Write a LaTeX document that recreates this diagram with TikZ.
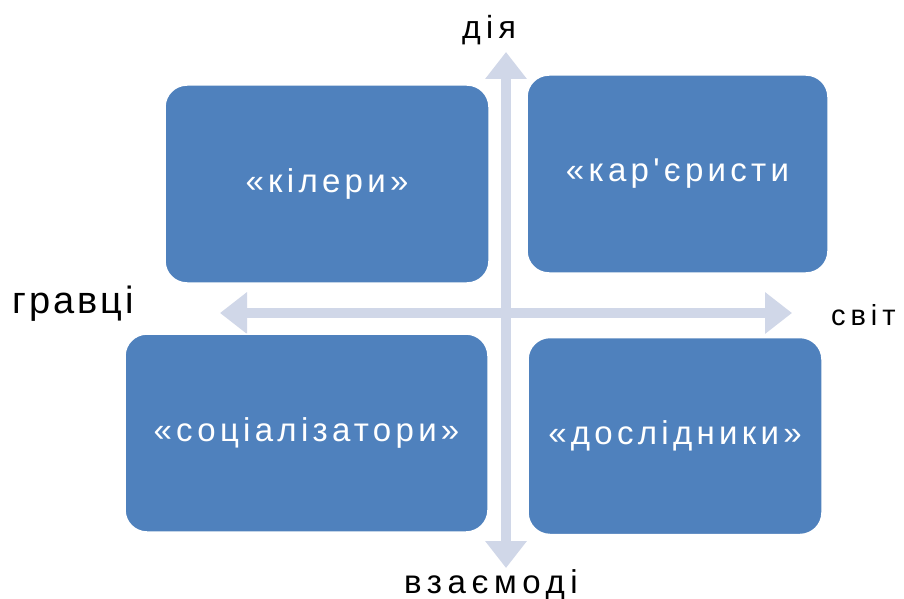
\documentclass[tikz,border=0pt]{standalone}
\usepackage{fontspec}
\setmainfont{Liberation Sans}
\newfontfamily\boxfont[LetterSpace=13]{Liberation Sans}
\newfontfamily\axisfontA[LetterSpace=8]{Liberation Sans}
\newfontfamily\axisfontB[LetterSpace=17]{Liberation Sans}
\usetikzlibrary{arrows.meta}
\definecolor{tileblue}{RGB}{79,129,189}
\definecolor{axisgrey}{RGB}{208,215,232}
\tikzset{
  tile/.style={rectangle, rounded corners=22pt, fill=tileblue, draw=white,
    line width=1.5pt, inner sep=0pt, text=white,
    font=\boxfont\fontsize{33}{38}\selectfont},
  axis/.style={draw=axisgrey, line width=10pt,
    {Triangle[width=40pt,length=27pt]}-{Triangle[width=40pt,length=27pt]}},
  axislabel/.style={inner sep=0pt, text=black}
}
\begin{document}
\begin{tikzpicture}[x=1pt,y=-1pt]
\useasboundingbox[fill=white] (0,0) rectangle (904,599);

% axis end points
\coordinate (top) at (506,52);
\coordinate (bottom) at (506,568);
\coordinate (left) at (220,313);
\coordinate (right) at (792,313);

\draw[axis] (left) -- (right);
\draw[axis] (bottom) -- (top);

% the four player types
\node[tile, minimum width=324pt, minimum height=198pt] (killers) at (327,184) {«кілери»};
\node[tile, minimum width=301pt, minimum height=198pt] (achievers) at (677.5,174) {«кар'єристи};
\node[tile, minimum width=363pt, minimum height=198pt] (socializers) at (306.5,433) {«соціалізатори»};
\node[tile, minimum width=294pt, minimum height=197pt] (explorers) at (675,436) {«дослідники»};

% axis labels
\node[axislabel, anchor=base, font=\axisfontB\fontsize{32}{37}\selectfont] (action) at (489,39) {дія};
\node[axislabel, anchor=base, font=\axisfontB\fontsize{33}{38}\selectfont] (interaction) at (491,593) {взаємоді};
\node[axislabel, anchor=base west, font=\axisfontA\fontsize{38}{44}\selectfont] (players) at (12,313) {гравці};
\node[axislabel, anchor=base west, font=\axisfontB\fontsize{29}{34}\selectfont] (world) at (831,325) {світ};
\end{tikzpicture}
\end{document}
